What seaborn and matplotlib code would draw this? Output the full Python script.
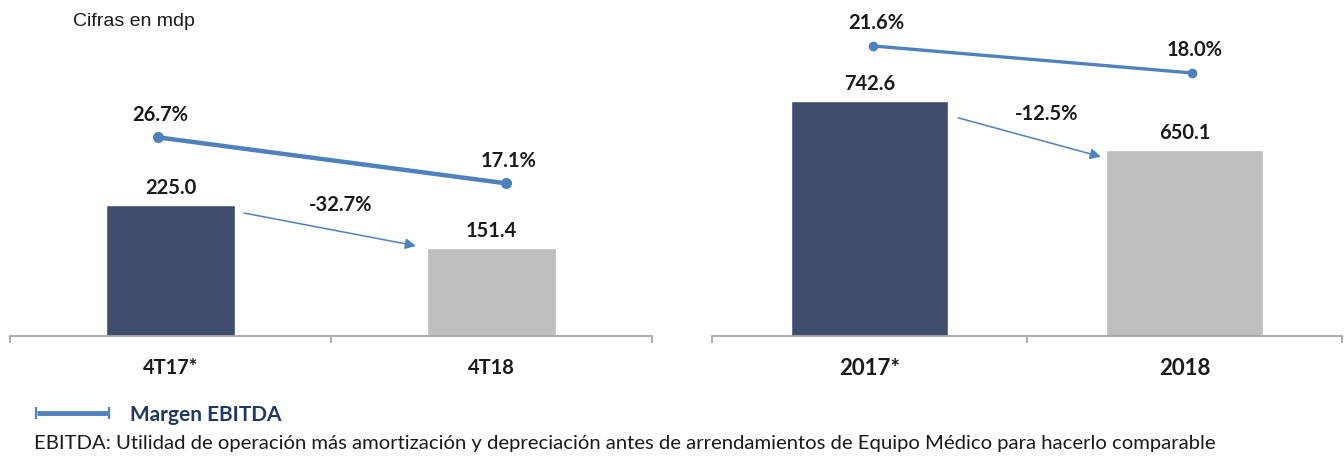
import matplotlib
matplotlib.use("Agg")
import matplotlib.pyplot as plt
from matplotlib.lines import Line2D
import seaborn as sns
import pandas as pd

# ---- data ----
quarter_cats = ["4T17*", "4T18"]
quarter_ebitda = [225.0, 151.4]
quarter_margin = [26.7, 17.1]
quarter_change = "-32.7%"

year_cats = ["2017*", "2018"]
year_ebitda = [742.6, 650.1]
year_margin = [21.6, 18.0]
year_change = "-12.5%"

units_note = "Cifras en mdp"
legend_label = "Margen EBITDA"
footnote = ("EBITDA: Utilidad de operación más amortización y depreciación antes de "
            "arrendamientos de Equipo Médico para hacerlo comparable")

# ---- style ----
sns.set_theme(style="white")
plt.rcParams["font.family"] = ["Lato", "DejaVu Sans"]

NAVY = "#3F4D6E"
GREY = "#BFBFBF"
BLUE = "#4F81BD"
AXIS = "#A6A6A6"
TXT = "#1A1A1A"

W, H = 1344, 457
fig = plt.figure(figsize=(W / 100, H / 100), dpi=100)


def fx(px):
    return px / W


def fy(py):
    return (H - py) / H


def panel(x0, x1, cats, vals, margins, change, ylim, mlim, lxlim, bw,
          tick_fs, line_w, msize, arrow_start, arrow_end, change_off):
    rect = [fx(x0), fy(336), fx(x1) - fx(x0), fy(10) - fy(336)]
    ax = fig.add_axes(rect)
    df = pd.DataFrame({"cat": cats, "val": vals})
    sns.barplot(data=df, x="cat", y="val", hue="cat", palette=[NAVY, GREY],
                width=bw, legend=False, ax=ax, saturation=1)
    ax.set_xlim(-0.5, 1.5)
    ax.set_ylim(*ylim)
    ax.set_xlabel("")
    ax.set_ylabel("")
    ax.set_yticks([])
    for s in ["top", "left", "right"]:
        ax.spines[s].set_visible(False)
    ax.spines["bottom"].set_color(AXIS)
    ax.spines["bottom"].set_linewidth(1.3)
    ax.set_xticks([-0.5, 0.5, 1.5])
    ax.set_xticklabels([])
    ax.set_xticks([0, 1], minor=True)
    ax.set_xticklabels(cats, minor=True, fontsize=tick_fs, fontweight="bold",
                       color=TXT)
    ax.tick_params(axis="x", which="major", direction="out", length=5,
                   width=1.3, color=AXIS, bottom=True)
    ax.tick_params(axis="x", which="minor", length=0, pad=16)
    ax.patch.set_alpha(0)

    for i, v in enumerate(vals):
        ax.annotate(f"{v:,.1f}", xy=(i, v), xytext=(0, 8),
                    textcoords="offset points", ha="center", va="baseline",
                    fontsize=14.5, fontweight="bold", color=TXT)

    # change arrow
    ax.annotate("", xy=arrow_end, xytext=arrow_start,
                arrowprops=dict(arrowstyle="-|>", color=BLUE, lw=1.1,
                                mutation_scale=16, shrinkA=0, shrinkB=0))
    ax.annotate(change, xy=(0.5, vals[0]), xytext=change_off,
                textcoords="offset points", ha="center", va="center",
                fontsize=14.5, fontweight="bold", color=TXT)

    # margin line on overlay axes
    lax = fig.add_axes(rect)
    lax.patch.set_alpha(0)
    lax.axis("off")
    ldf = pd.DataFrame({"x": [0, 1], "m": margins})
    sns.lineplot(data=ldf, x="x", y="m", color=BLUE, lw=line_w, marker="o",
                 markersize=msize, markeredgewidth=0, ax=lax)
    lax.set_xlim(*lxlim)
    lax.set_ylim(*mlim)
    lax.axis("off")
    for i, m in enumerate(margins):
        lax.annotate(f"{m:.1f}%", xy=(i, m), xytext=(2, 12),
                     textcoords="offset points", ha="center", va="baseline",
                     fontsize=14.5, fontweight="bold", color=TXT)
    return ax


panel(10, 652, quarter_cats, quarter_ebitda, quarter_margin, quarter_change,
      ylim=(0, 562), mlim=(-14.8, 53.3), lxlim=(-0.425, 1.42), bw=0.40,
      tick_fs=14.5, line_w=3.2, msize=8,
      arrow_start=(0.229, quarter_ebitda[0] - 13),
      arrow_end=(0.765, quarter_ebitda[1] + 4),
      change_off=(7, 0))

panel(712, 1342, year_cats, year_ebitda, year_margin, year_change,
      ylim=(300, 915), mlim=(-17.1, 26.4), lxlim=(-0.505, 1.47), bw=0.50,
      tick_fs=16, line_w=2.4, msize=7,
      arrow_start=(0.281, year_ebitda[0] - 31),
      arrow_end=(0.735, year_ebitda[1] - 12),
      change_off=(14, -9))

fig.text(fx(73), fy(22), units_note, fontsize=14, color=TXT,
         family=["Liberation Sans", "DejaVu Sans"], ha="left", va="center")

fig.add_artist(Line2D([fx(37), fx(108)], [fy(413), fy(413)], color=BLUE,
                      lw=3.5, solid_capstyle="butt"))
fig.add_artist(Line2D([fx(36), fx(109)], [fy(413), fy(413)], color=BLUE,
                      lw=0, marker="|", markersize=8, markeredgewidth=1.6))
fig.text(fx(130), fy(415), legend_label, fontsize=15, fontweight="bold",
         color="#1F3864", ha="left", va="center")
fig.text(fx(34), fy(443), footnote, fontsize=14.6, color=TXT, ha="left",
         va="center")

fig.savefig("out.png", dpi=100)
